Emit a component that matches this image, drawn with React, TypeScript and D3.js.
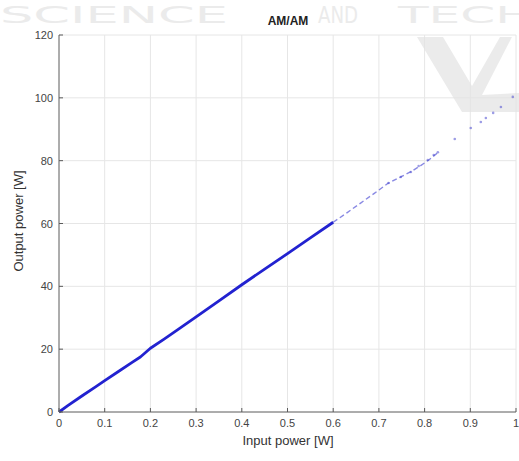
import { useRef, useEffect } from "react";
import * as d3 from "d3";

// dense part of the AM/AM curve (thick line)
const denseInput = [0, 0.02, 0.05, 0.08, 0.1, 0.13, 0.16, 0.178, 0.19, 0.2, 0.23, 0.26, 0.3, 0.35, 0.4, 0.45, 0.5, 0.55, 0.6];
const denseOutput = [0, 2.1, 5.1, 8.0, 10.0, 12.9, 15.8, 17.5, 19.0, 20.3, 23.2, 26.2, 30.3, 35.4, 40.5, 45.5, 50.4, 55.4, 60.4];

// thinner, broken part of the curve
const midInput = [0.6, 0.63, 0.66, 0.69, 0.72, 0.75, 0.77, 0.79, 0.81, 0.83];
const midOutput = [60.4, 63.4, 66.5, 69.6, 72.8, 75.0, 76.5, 78.3, 80.3, 82.7];

// sparse samples near saturation
const sparseInput = [0.721, 0.748, 0.77, 0.787, 0.807, 0.82, 0.829, 0.866, 0.901, 0.923, 0.934, 0.95, 0.967, 0.993];
const sparseOutput = [72.9, 74.8, 76.4, 78.3, 80.2, 81.8, 82.7, 86.9, 90.4, 92.3, 93.6, 95.2, 97.1, 100.3];

const xTicks = [0, 0.1, 0.2, 0.3, 0.4, 0.5, 0.6, 0.7, 0.8, 0.9, 1];
const yTicks = [0, 20, 40, 60, 80, 100, 120];

const watermarkWords = ["SCIENCE", "AND", "TECH"];
const watermarkX = [0, 318, 398];
const watermarkLen = [228, 40, 135];

function App() {
  const svgRef = useRef<SVGSVGElement>(null);

  useEffect(() => {
    if (!svgRef.current) return;
    const svg = d3.select(svgRef.current);
    svg.selectAll("*").remove();

    const font = "'Liberation Sans', Arial, sans-serif";
    const x = d3.scaleLinear().domain([0, 1]).range([59, 516]);
    const y = d3.scaleLinear().domain([0, 120]).range([412, 35]);

    svg.append("rect").attr("width", 519).attr("height", 461).attr("fill", "#fff");

    // watermark of the source page
    svg
      .selectAll("text.wm")
      .data(watermarkWords)
      .join("text")
      .attr("class", "wm")
      .attr("x", (_, i) => watermarkX[i])
      .attr("y", 23)
      .attr("textLength", (_, i) => watermarkLen[i])
      .attr("lengthAdjust", "spacingAndGlyphs")
      .attr("font-family", "'DejaVu Sans', sans-serif")
      .attr("font-size", 23)
      .attr("fill", "#ebebeb")
      .text((d) => d);

    // grid
    svg
      .append("g")
      .selectAll("line")
      .data(xTicks.slice(1))
      .join("line")
      .attr("x1", (d) => x(d))
      .attr("x2", (d) => x(d))
      .attr("y1", y(0))
      .attr("y2", y(120))
      .attr("stroke", "#e6e6e6")
      .attr("stroke-width", 1);
    svg
      .append("g")
      .selectAll("line")
      .data(yTicks.slice(1))
      .join("line")
      .attr("x1", x(0))
      .attr("x2", x(1))
      .attr("y1", (d) => y(d))
      .attr("y2", (d) => y(d))
      .attr("stroke", "#e6e6e6")
      .attr("stroke-width", 1);

    // V logo of the watermark
    svg
      .append("path")
      .attr("d", "M417,37 L443,37 L472,86 L500,37 L512,37 L482,95 L519,93 L519,112 L462,112 Z")
      .attr("fill", "#e2e2e2")
      .attr("opacity", 0.7);

    const curve = d3
      .line<[number, number]>()
      .x((d) => x(d[0]))
      .y((d) => y(d[1]));

    svg
      .append("path")
      .attr("d", curve(midInput.map((v, i) => [v, midOutput[i]] as [number, number])))
      .attr("fill", "none")
      .attr("stroke", "#3a3ad0")
      .attr("stroke-width", 1.4)
      .attr("stroke-dasharray", "5 3")
      .attr("opacity", 0.6);

    svg
      .append("path")
      .attr("d", curve(denseInput.map((v, i) => [v, denseOutput[i]] as [number, number])))
      .attr("fill", "none")
      .attr("stroke", "#2222d0")
      .attr("stroke-width", 2.8)
      .attr("stroke-linejoin", "round");

    svg
      .append("g")
      .selectAll("circle")
      .data(sparseInput)
      .join("circle")
      .attr("cx", (d) => x(d))
      .attr("cy", (_, i) => y(sparseOutput[i]))
      .attr("r", 1.3)
      .attr("fill", "#4a4ad0")
      .attr("opacity", 0.55);

    // axes
    const axisColor = "#5a5a5a";
    svg
      .append("line")
      .attr("x1", x(0))
      .attr("x2", x(1))
      .attr("y1", y(0))
      .attr("y2", y(0))
      .attr("stroke", axisColor);
    svg
      .append("line")
      .attr("x1", x(0))
      .attr("x2", x(0))
      .attr("y1", y(0))
      .attr("y2", y(120))
      .attr("stroke", axisColor);

    const xt = svg.append("g");
    xt.selectAll("line")
      .data(xTicks)
      .join("line")
      .attr("x1", (d) => x(d))
      .attr("x2", (d) => x(d))
      .attr("y1", y(0))
      .attr("y2", y(0) - 4)
      .attr("stroke", axisColor);
    xt.selectAll("text")
      .data(xTicks)
      .join("text")
      .attr("x", (d) => x(d))
      .attr("y", 427)
      .attr("text-anchor", "middle")
      .attr("font-family", font)
      .attr("font-size", 11)
      .attr("fill", "#444")
      .text((d) => String(d));

    const yt = svg.append("g");
    yt.selectAll("line")
      .data(yTicks)
      .join("line")
      .attr("x1", x(0))
      .attr("x2", x(0) + 4)
      .attr("y1", (d) => y(d))
      .attr("y2", (d) => y(d))
      .attr("stroke", axisColor);
    yt.selectAll("text")
      .data(yTicks)
      .join("text")
      .attr("x", 53)
      .attr("y", (d) => y(d) + 4)
      .attr("text-anchor", "end")
      .attr("font-family", font)
      .attr("font-size", 11)
      .attr("fill", "#444")
      .text((d) => String(d));

    // labels
    svg
      .append("text")
      .attr("x", 288)
      .attr("y", 25)
      .attr("text-anchor", "middle")
      .attr("font-family", font)
      .attr("font-size", 12)
      .attr("font-weight", "bold")
      .attr("fill", "#222")
      .text("AM/AM");
    svg
      .append("text")
      .attr("x", 288)
      .attr("y", 445)
      .attr("text-anchor", "middle")
      .attr("font-family", font)
      .attr("font-size", 13)
      .attr("fill", "#333")
      .text("Input power [W]");
    svg
      .append("text")
      .attr("transform", "translate(23,221) rotate(-90)")
      .attr("text-anchor", "middle")
      .attr("font-family", font)
      .attr("font-size", 13)
      .attr("fill", "#333")
      .text("Output power [W]");
  }, []);

  return (
    <svg
      ref={svgRef}
      width={519}
      height={461}
      style={{ position: "absolute", left: 0, top: 0, display: "block" }}
    />
  );
}

export default App;
